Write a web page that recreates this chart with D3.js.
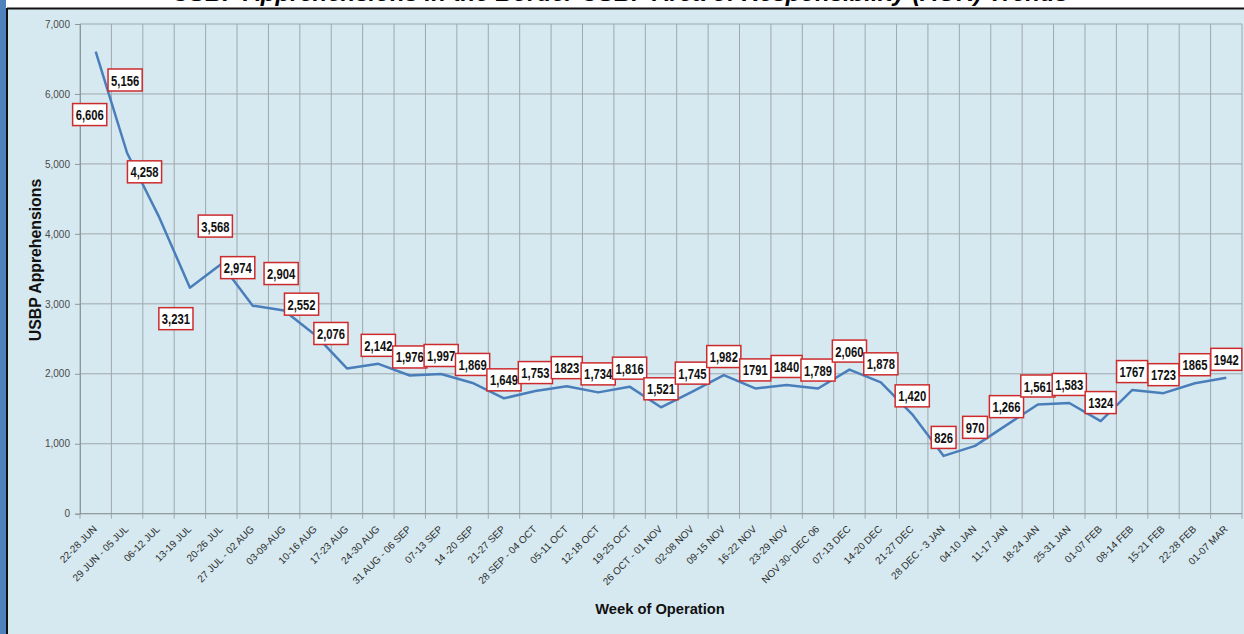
<!DOCTYPE html>
<html>
<head>
<meta charset="utf-8">
<script src="https://cdn.jsdelivr.net/npm/d3@7"></script>
<style>
  body { margin: 0; background: #fff; }
  svg { display: block; }
  .tick-y text { font-family: "Liberation Sans", Arial, sans-serif; font-size: 10px; fill: #4a4a4a; }
  .tick-x text { font-family: "Liberation Sans", Arial, sans-serif; font-size: 10px; fill: #2e2e2e; }
  .axis-title { font-family: "Liberation Sans", Arial, sans-serif; font-weight: bold; fill: #111; }
  .point-label { font-family: "Liberation Sans", Arial, sans-serif; font-weight: bold; font-size: 15px; fill: #111; }
</style>
</head>
<body>
<div id="chart"></div>
<script>
// Weekly USBP apprehensions
var weeks = ['22-28 JUN', '29 JUN - 05 JUL', '06-12 JUL', '13-19 JUL', '20-26 JUL',
	'27 JUL - 02 AUG', '03-09-AUG', '10-16 AUG', '17-23 AUG', '24-30 AUG', '31 AUG - 06 SEP',
	'07-13 SEP', '14 -20 SEP', '21-27 SEP', '28 SEP - 04 OCT', '05-11 OCT', '12-18 OCT',
	'19-25 OCT', '26 OCT - 01 NOV', '02-08 NOV', '09-15 NOV', '16-22 NOV', '23-29 NOV',
	'NOV 30- DEC 06', '07-13 DEC', '14-20 DEC', '21-27 DEC', '28 DEC - 3 JAN', '04-10 JAN',
	'11-17 JAN', '18-24 JAN', '25-31 JAN', '01-07 FEB', '08-14 FEB', '15-21 FEB',
	'22-28 FEB', '01-07 MAR'];
var apprehensions = [6606, 5156, 4258, 3231, 3568, 2974, 2904, 2552, 2076, 2142, 1976,
	1997, 1869, 1649, 1753, 1823, 1734, 1816, 1521, 1745, 1982, 1791, 1840,
	1789, 2060, 1878, 1420, 826, 970, 1266, 1561, 1583, 1324, 1767, 1723,
	1865, 1942];
// the source writes some labels with a thousands comma and some without
var labelTexts = ['6,606', '5,156', '4,258', '3,231', '3,568', '2,974', '2,904', '2,552', '2,076',
	'2,142', '1,976', '1,997', '1,869', '1,649', '1,753', '1823', '1,734', '1,816', '1,521',
	'1,745', '1,982', '1791', '1840', '1,789', '2,060', '1,878', '1,420', '826', '970', '1,266',
	'1,561', '1,583', '1324', '1767', '1723', '1865', '1942'];
var yTicks = [0, 1000, 2000, 3000, 4000, 5000, 6000, 7000];

// the first few labels were dragged by hand in the original; everything else sits above its point
var labelNudge = [[-6, 63], [-2, -73], [-14, -44], [-14, 31], [-6, -38], [-15, -38], [-3, -37],
	[-14, -31], [-16, -35]];

(function() {
	var W = 1244, H = 634;
	var plotLeft = 80, plotRight = 1242, plotTop = 24, plotBottom = 513.7;
	var squeeze = 0.75; // labels use a condensed face in the original

	var svg = d3.select('#chart').append('svg')
		.attr('width', W)
		.attr('height', H);

	// page furniture: frame, blue strip on the left and the (cut off) slide title
	svg.append('rect').attr('x', 0).attr('y', 0).attr('width', W).attr('height', H).attr('fill', '#fff');
	svg.append('rect').attr('x', 7).attr('y', 8).attr('width', W - 7).attr('height', H - 8)
		.attr('fill', '#d6e9f0');
	svg.append('line').attr('x1', 7).attr('x2', W).attr('y1', 8.5).attr('y2', 8.5)
		.attr('stroke', '#111').attr('stroke-width', 2);
	svg.append('line').attr('x1', 7).attr('x2', 7).attr('y1', 8).attr('y2', H)
		.attr('stroke', '#111').attr('stroke-width', 2);
	svg.append('rect').attr('x', 0).attr('y', 0).attr('width', 6).attr('height', H).attr('fill', '#4f81bd');
	svg.append('text')
		.attr('x', 620).attr('y', 0.5)
		.attr('text-anchor', 'middle')
		.style('font-family', '"Liberation Sans", Arial, sans-serif')
		.style('font-weight', 'bold').style('font-style', 'italic').style('font-size', '24px')
		.text('USBP Apprehensions in the Border USBP Area of Responsibility (AOR) Trends');

	var x = d3.scaleBand().domain(weeks).range([plotLeft, plotRight]);
	var y = d3.scaleLinear().domain([0, 7000]).range([plotBottom, plotTop]);

	// gridlines
	var grid = svg.append('g');
	grid.selectAll('.hgrid').data(yTicks).enter().append('line')
		.attr('x1', plotLeft).attr('x2', plotRight)
		.attr('y1', function(d) { return y(d); }).attr('y2', function(d) { return y(d); })
		.attr('stroke', '#9ea8ad').attr('stroke-width', 1);
	var bounds = weeks.map(function(w) { return x(w); }).concat([plotRight]);
	grid.selectAll('.vgrid').data(bounds).enter().append('line')
		.attr('x1', function(d) { return d; }).attr('x2', function(d) { return d; })
		.attr('y1', plotTop).attr('y2', plotBottom + 5)
		.attr('stroke', '#9ea8ad').attr('stroke-width', 1);

	// y axis
	var yAxis = svg.append('g')
		.attr('class', 'tick-y')
		.attr('transform', 'translate(' + plotLeft + ',0)')
		.call(d3.axisLeft(y).tickValues(yTicks).tickSize(5).tickPadding(5).tickFormat(d3.format(',')));
	yAxis.select('.domain').attr('stroke', '#8e979c');
	yAxis.selectAll('.tick line').attr('stroke', '#8e979c');

	// x axis
	svg.append('line').attr('x1', plotLeft).attr('x2', plotRight)
		.attr('y1', plotBottom).attr('y2', plotBottom)
		.attr('stroke', '#8e979c');
	var xAxis = svg.append('g')
		.attr('class', 'tick-x')
		.attr('transform', 'translate(0,' + plotBottom + ')')
		.call(d3.axisBottom(x).tickSize(0).tickPadding(0));
	xAxis.select('.domain').remove();
	xAxis.selectAll('.tick text')
		.attr('text-anchor', 'end')
		.attr('dy', 0)
		.attr('transform', 'translate(2,16) rotate(-45)');

	// axis titles
	svg.append('text')
		.attr('class', 'axis-title')
		.attr('transform', 'translate(41,260) rotate(-90)')
		.attr('text-anchor', 'middle')
		.style('font-size', '15.8px')
		.text('USBP Apprehensions');
	svg.append('text')
		.attr('class', 'axis-title')
		.attr('x', 660).attr('y', 614)
		.attr('text-anchor', 'middle')
		.style('font-size', '14.7px')
		.text('Week of Operation');

	// the line
	var line = d3.line()
		.x(function(d, i) { return x(weeks[i]) + x.bandwidth() / 2; })
		.y(function(d) { return y(d); });
	svg.append('path')
		.datum(apprehensions)
		.attr('d', line)
		.attr('fill', 'none')
		.attr('stroke', '#4a7ebb')
		.attr('stroke-width', 2.5)
		.attr('stroke-linejoin', 'round');

	// data labels
	var labels = svg.append('g').selectAll('g').data(apprehensions).enter().append('g')
		.attr('transform', function(d, i) {
			var nudge = labelNudge[i] || [0, -18.5];
			var cx = x(weeks[i]) + x.bandwidth() / 2 + nudge[0];
			var cy = y(d) + nudge[1];
			return 'translate(' + cx + ',' + cy + ')';
		});
	labels.append('rect');
	labels.append('text')
		.attr('class', 'point-label')
		.attr('text-anchor', 'middle')
		.attr('y', 5.5)
		.attr('transform', 'scale(' + squeeze + ',1)')
		.text(function(d, i) { return labelTexts[i]; });
	labels.each(function() {
		var g = d3.select(this);
		var tw = g.select('text').node().getComputedTextLength() * squeeze;
		g.select('rect')
			.attr('x', -tw / 2 - 3).attr('y', -11)
			.attr('width', tw + 6).attr('height', 22)
			.attr('fill', '#fff')
			.attr('stroke', '#cc2b2e')
			.attr('stroke-width', 1.5);
	});
})();
</script>
</body>
</html>
